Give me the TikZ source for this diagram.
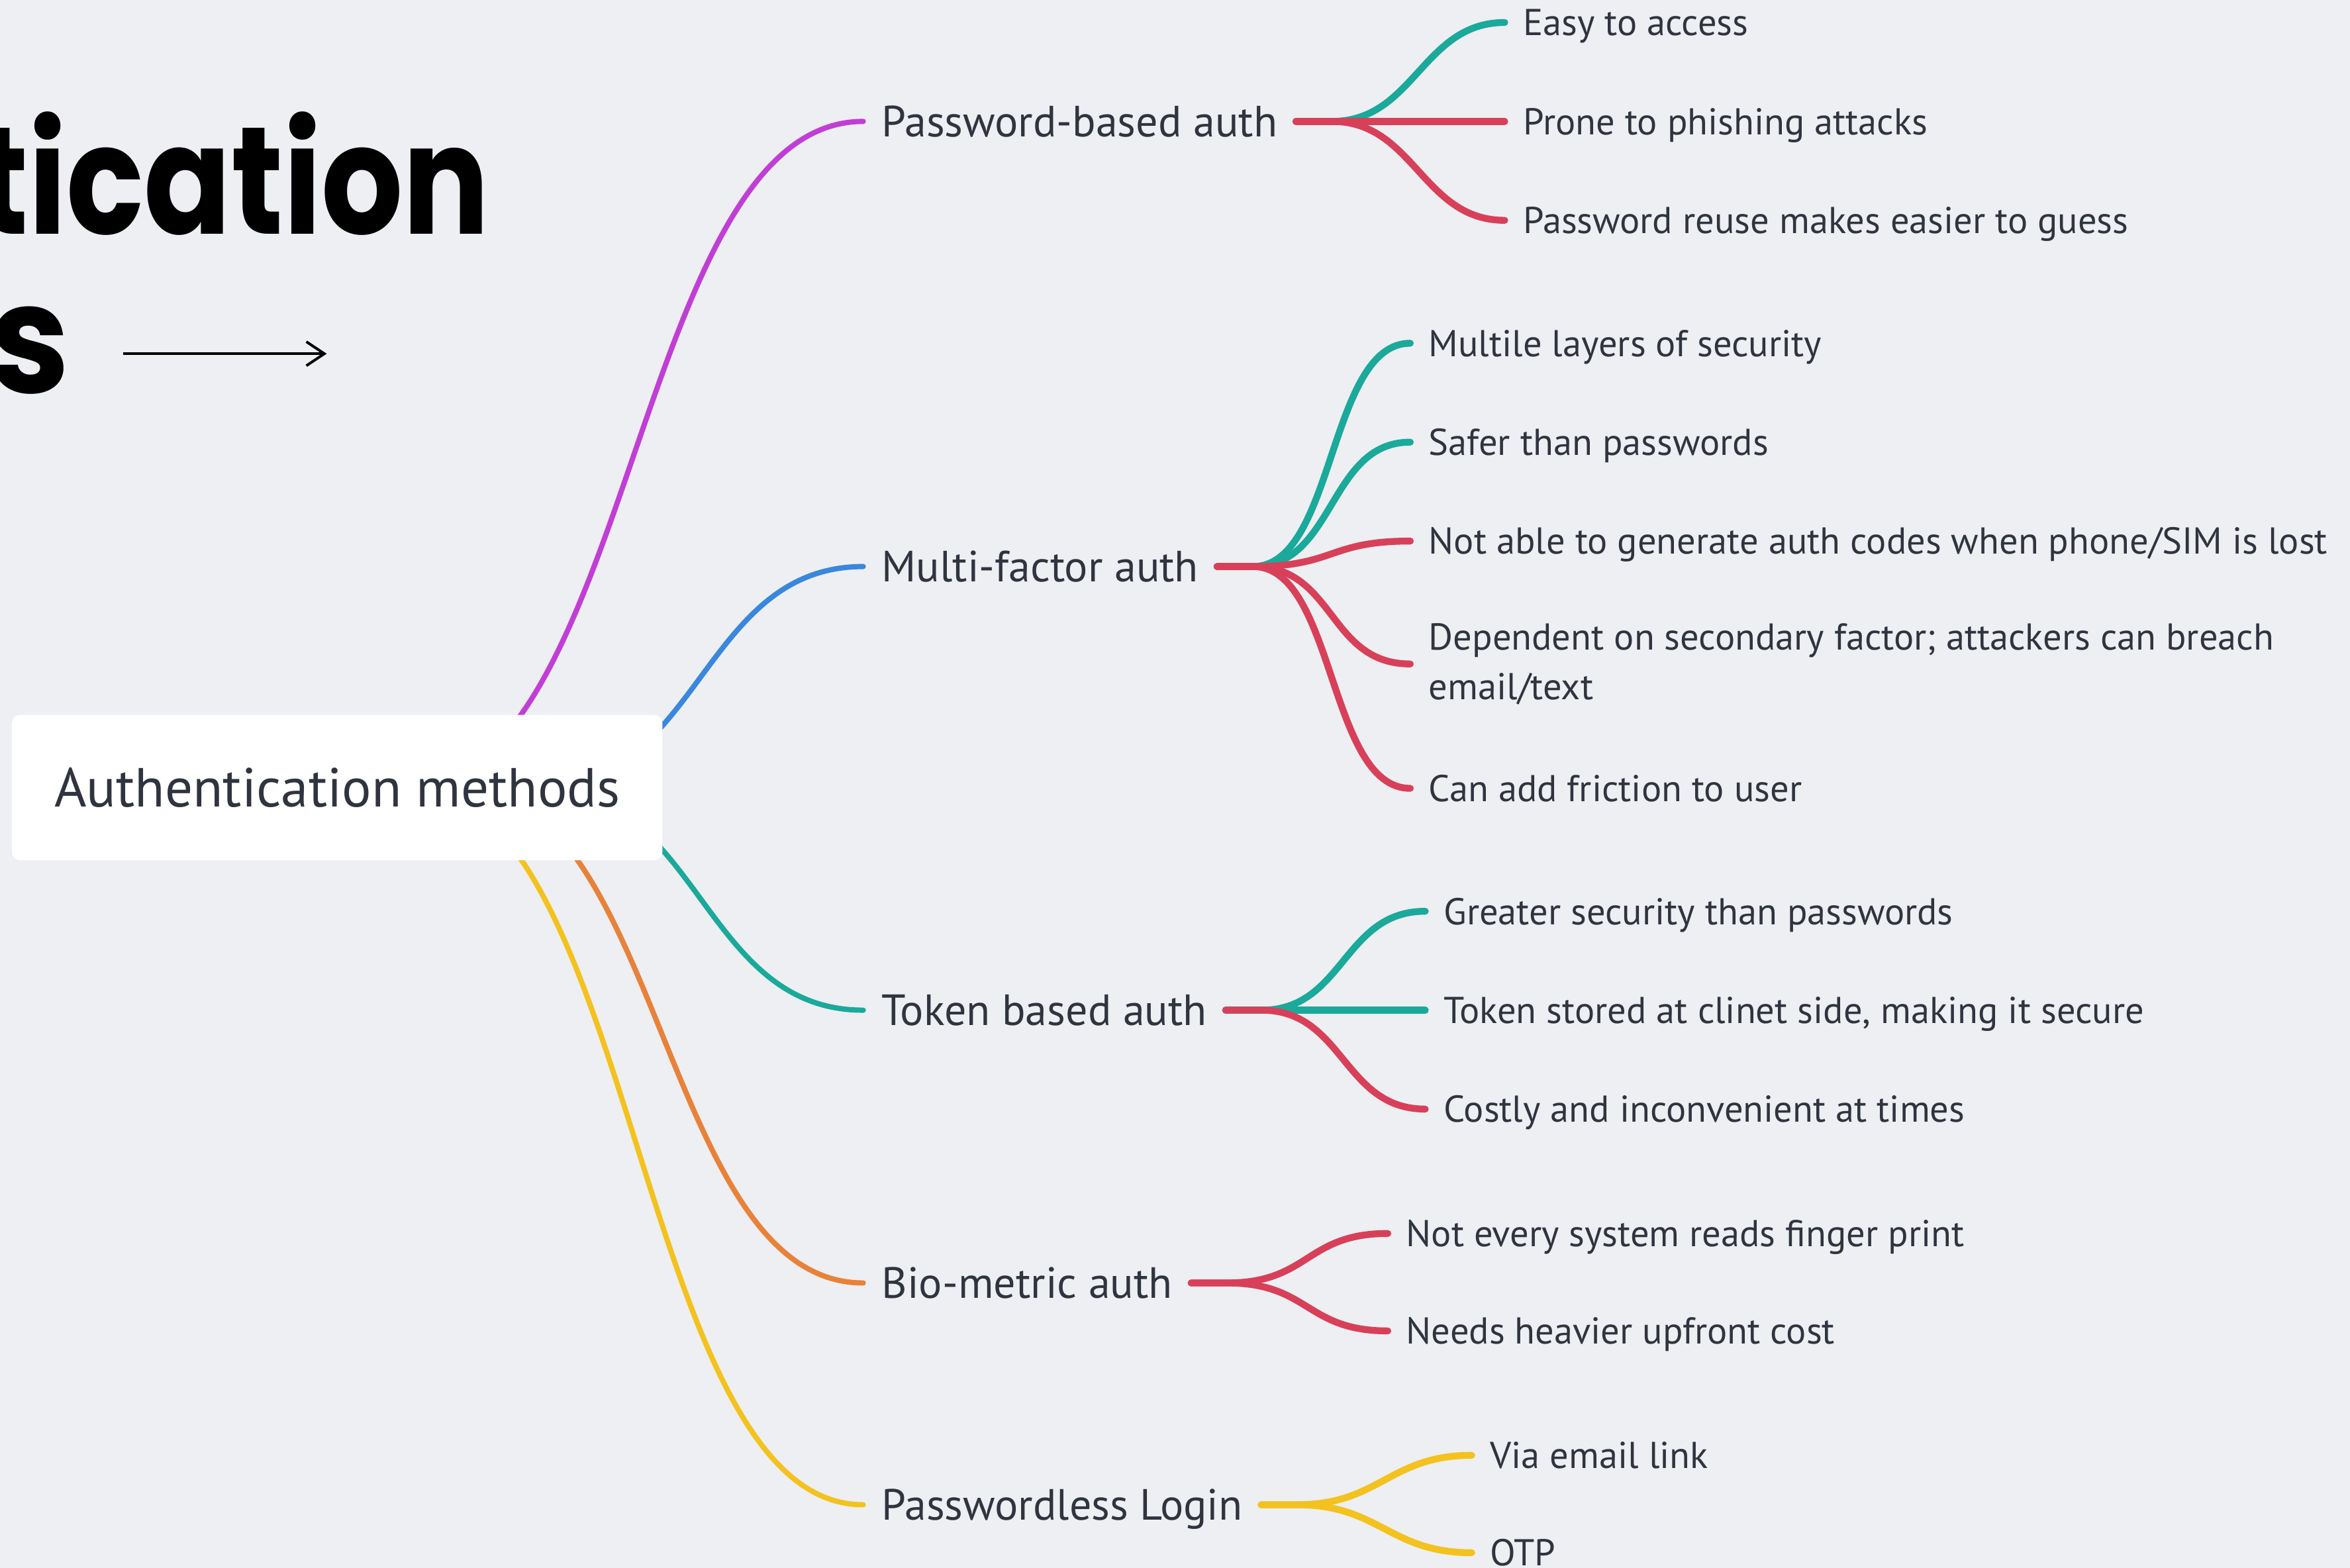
\documentclass[tikz,border=0pt]{standalone}
\usepackage{fontspec}
\setmainfont{PT Sans}
\newfontfamily\titlefont{Poppins}
\usetikzlibrary{calc,backgrounds,arrows.meta}

\definecolor{page}{HTML}{EDEFF2}
\definecolor{ink}{HTML}{30343F}
\definecolor{cMag}{HTML}{C13ED6}
\definecolor{cBlue}{HTML}{3A87DD}
\definecolor{cTeal}{HTML}{1AA99A}
\definecolor{cOrange}{HTML}{E8823A}
\definecolor{cYellow}{HTML}{F4C21F}
\definecolor{cRed}{HTML}{D8405A}

\tikzset{
  headline/.style={font=\titlefont\bfseries\fontsize{58}{60}\selectfont, inner sep=0pt, text=black},
  rootbox/.style={fill=white, rounded corners=3pt, minimum width=8.68cm, minimum height=1.94cm,
    font=\fontsize{20.9}{25}\selectfont, text=ink},
  topic/.style={anchor=west, inner xsep=0.24cm, inner ysep=0pt, text height=11.55pt, text depth=0pt,
    font=\fontsize{16.6}{20}\selectfont, text=ink},
  leafbox/.style={anchor=west, inner xsep=0.24cm, inner ysep=0pt,
    font=\fontsize{14.2}{18.8}\selectfont, text=ink},
  leaf/.style={leafbox, text height=10pt, text depth=0pt},
  limb/.style={draw=#1, line width=2pt, line cap=round},
  twig/.style={draw=#1, line width=2.6pt, line cap=round},
  pointer/.style={draw=black, line width=1pt, -{Straight Barb[length=2.4mm,width=3.2mm]}}
}

\begin{document}
\begin{tikzpicture}[x=0.02cm,y=-0.02cm]
  \useasboundingbox (0,0) rectangle (1568,1046);
  \clip (0,0) rectangle (1568,1046);

  % title, cut by the left edge
  \node[headline, anchor=base east] (titleA) at (327,156) {\scalebox{0.84}[1]{tication}};
  \node[headline, anchor=base east] (titleB) at (47,262) {\scalebox{0.95}[1]{s}};
  \coordinate (arrowtip) at (218,236);
  \draw[pointer] ($(titleB.base east)+(35,-26)$) -- (arrowtip);

  % centre and main topics
  \node[rootbox] (root) at (225,525.5) {Authentication methods};
  \node[topic] (pw) at (576,81) {Password-based auth};
  \node[topic] (mfa) at (576,378) {Multi-factor auth};
  \node[topic] (tok) at (576,674) {Token based auth};
  \node[topic] (bio) at (576,856) {Bio-metric auth};
  \node[topic] (pwl) at (576,1004) {Passwordless Login};

  % leaves
  \node[leaf] (easy) at (1004,15) {Easy to access};
  \node[leaf] (phish) at (1004,81) {Prone to phishing attacks};
  \node[leaf] (reuse) at (1004,147) {Password reuse makes easier to guess};
  \node[leaf] (layers) at (941,229) {Multile layers of security};
  \node[leaf] (safer) at (941,295) {Safer than passwords};
  \node[leaf] (lost) at (941,361) {Not able to generate auth codes when phone/SIM is lost};
  \node[leafbox, align=left] (breach) at (941,443) {Dependent on secondary factor; attackers can breach\\email/text};
  \node[leaf] (friction) at (941,526) {Can add friction to user};
  \node[leaf] (greater) at (951,608) {Greater security than passwords};
  \node[leaf] (stored) at (951,674) {Token stored at clinet side, making it secure};
  \node[leaf] (costly) at (951,740) {Costly and inconvenient at times};
  \node[leaf] (finger) at (926,823) {Not every system reads finger print};
  \node[leaf] (upfront) at (926,888) {Needs heavier upfront cost};
  \node[leaf] (email) at (982,971) {Via email link};
  \node[leaf] (otp) at (982,1036) {OTP};

  \begin{scope}[on background layer]
    \fill[page] (0,0) rectangle (1568,1046);
    % root to topics
    \draw[limb=cMag] ($(root.center)+(45,0)$) .. controls +(153,0) and +(-153,0) .. (pw.west);
    \draw[limb=cBlue] ($(root.center)+(134,0)$) .. controls +(108,0) and +(-108,0) .. (mfa.west);
    \draw[limb=cTeal] ($(root.center)+(134,0)$) .. controls +(108,0) and +(-108,0) .. (tok.west);
    \draw[limb=cOrange] ($(root.center)+(83,0)$) .. controls +(134,0) and +(-134,0) .. (bio.west);
    \draw[limb=cYellow] ($(root.center)+(49,0)$) .. controls +(151,0) and +(-151,0) .. (pwl.west);
    % topics to leaves
    \draw[twig=cTeal] (pw.east) -- ++(24,0) .. controls +(55,0) and +(-55,0) .. (easy.west);
    \draw[twig=cRed] (pw.east) -- (phish.west);
    \draw[twig=cRed] (pw.east) -- ++(24,0) .. controls +(55,0) and +(-55,0) .. (reuse.west);
    \draw[twig=cTeal] (mfa.east) -- ++(24,0) .. controls +(55,0) and +(-55,0) .. (layers.west);
    \draw[twig=cTeal] (mfa.east) -- ++(24,0) .. controls +(55,0) and +(-55,0) .. (safer.west);
    \draw[twig=cRed] (mfa.east) -- ++(24,0) .. controls +(55,0) and +(-55,0) .. (lost.west);
    \draw[twig=cRed] (mfa.east) -- ++(24,0) .. controls +(55,0) and +(-55,0) .. (breach.west);
    \draw[twig=cRed] (mfa.east) -- ++(24,0) .. controls +(55,0) and +(-55,0) .. (friction.west);
    \draw[twig=cTeal] (tok.east) -- ++(24,0) .. controls +(55,0) and +(-55,0) .. (greater.west);
    \draw[twig=cTeal] (tok.east) -- (stored.west);
    \draw[twig=cRed] (tok.east) -- ++(24,0) .. controls +(55,0) and +(-55,0) .. (costly.west);
    \draw[twig=cRed] (bio.east) -- ++(24,0) .. controls +(55,0) and +(-55,0) .. (finger.west);
    \draw[twig=cRed] (bio.east) -- ++(24,0) .. controls +(55,0) and +(-55,0) .. (upfront.west);
    \draw[twig=cYellow] (pwl.east) -- ++(24,0) .. controls +(55,0) and +(-55,0) .. (email.west);
    \draw[twig=cYellow] (pwl.east) -- ++(24,0) .. controls +(55,0) and +(-55,0) .. (otp.west);
  \end{scope}
\end{tikzpicture}
\end{document}
